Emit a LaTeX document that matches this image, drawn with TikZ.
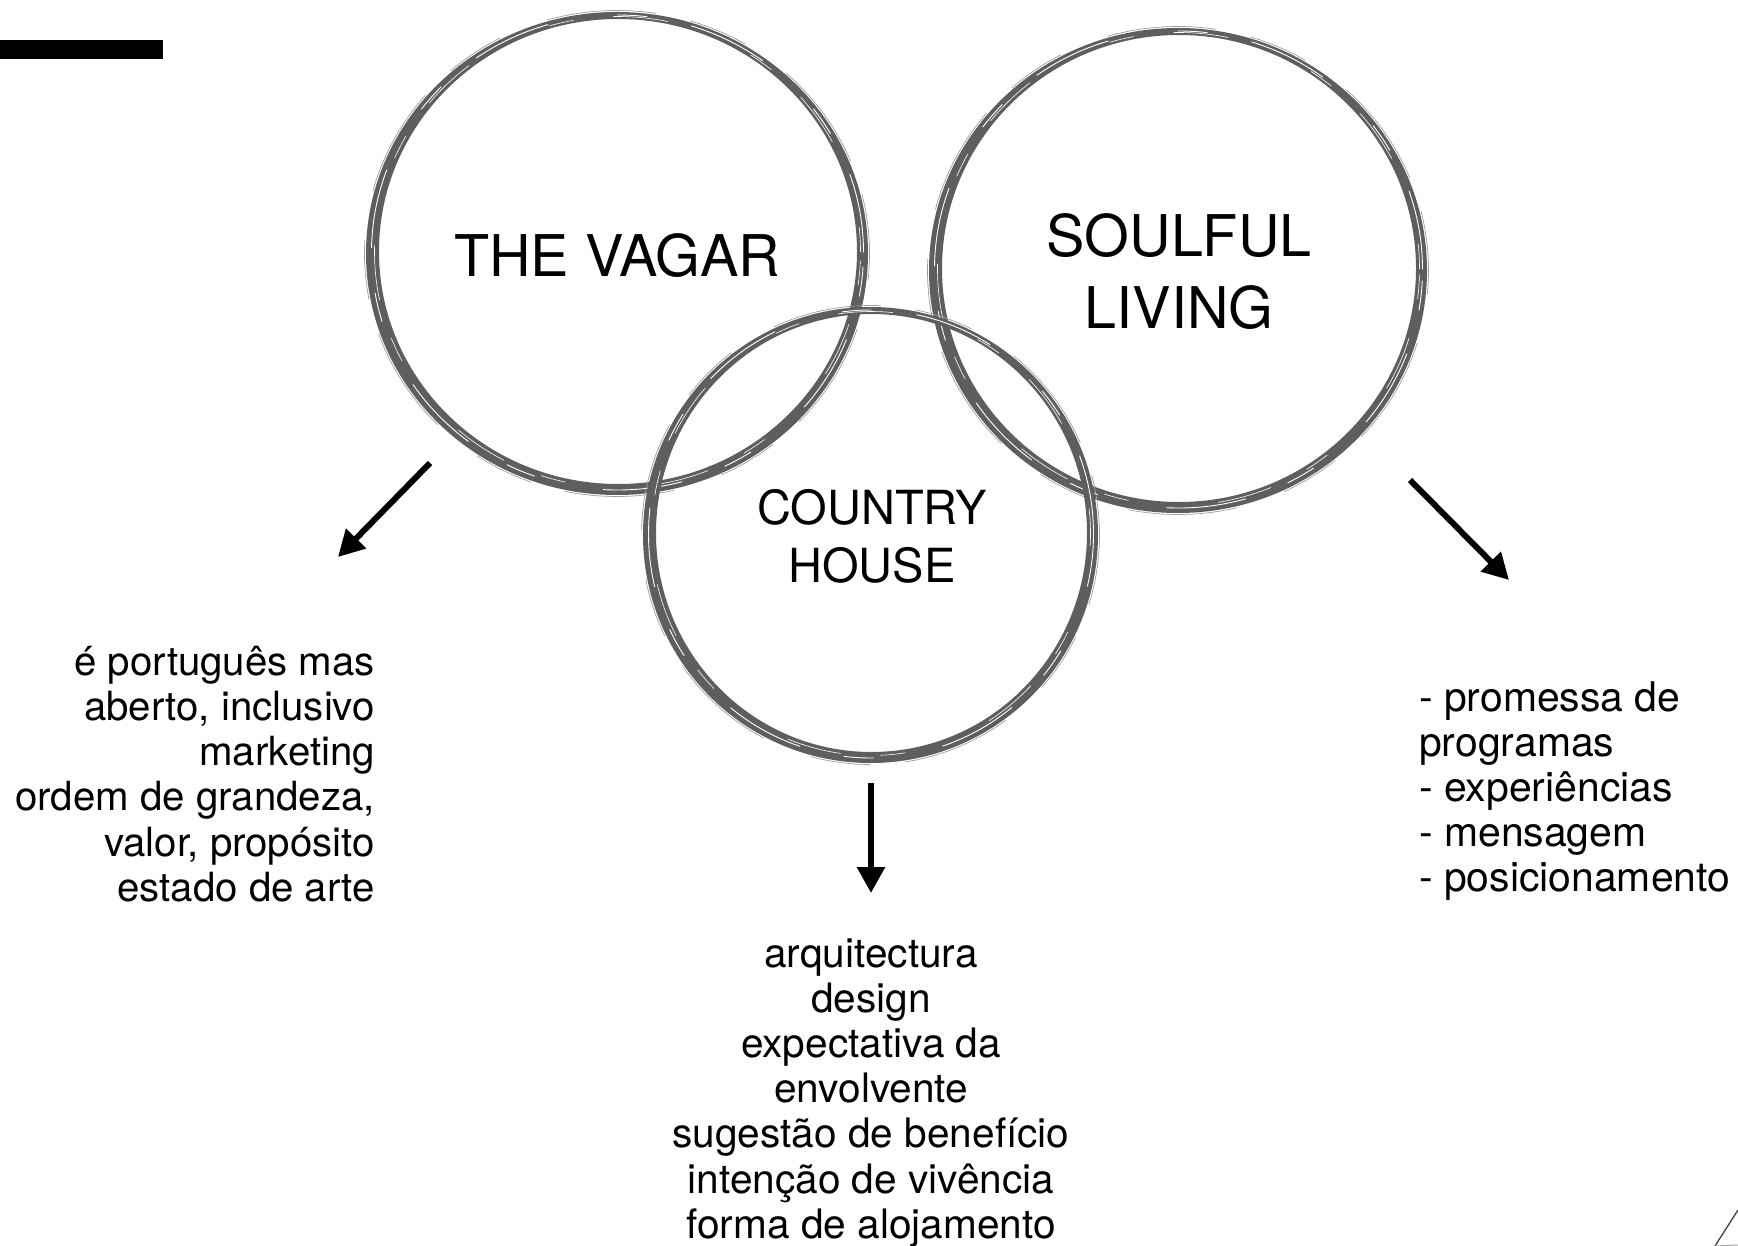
\documentclass[tikz,border=0pt]{standalone}
\usepackage{fontspec}
\setmainfont{TeX Gyre Heros}
\usetikzlibrary{arrows.meta}
\definecolor{brushc}{RGB}{94,94,94}
\newcommand\brushring[3]{% #1 centre name, #2 outer x radius, #3 outer y radius
  \fill[brushc, even odd rule] (#1) ellipse [x radius=#2pt, y radius=#3pt]
     ([shift={(1,-2)}]#1) ellipse [x radius=#2pt-12pt, y radius=#3pt-9pt];
  \draw[white, line width=0.9pt, dash pattern=on 80pt off 45pt on 30pt off 70pt]
     ([shift={(0.5,-1)}]#1) ellipse [x radius=#2pt-5pt, y radius=#3pt-4pt];
  \draw[white, line width=0.6pt, dash pattern=on 25pt off 90pt on 55pt off 40pt]
     ([shift={(0.5,-1.5)}]#1) ellipse [x radius=#2pt-8pt, y radius=#3pt-6pt];
  \draw[brushc!60, line width=0.7pt, dash pattern=on 60pt off 35pt on 110pt off 50pt]
     (#1) ellipse [x radius=#2pt+1.5pt, y radius=#3pt+1.5pt];
}
\begin{document}
\begin{tikzpicture}[x=1pt,y=-1pt,
  arr/.style={line width=6pt, -{Triangle[length=26pt,width=27pt]}},
  bigtxt/.style={font=\fontsize{57.5}{72}\selectfont, inner sep=0pt, anchor=base},
  midtxt/.style={font=\fontsize{47}{58}\selectfont, inner sep=0pt, anchor=base},
  smalltxt/.style={font=\fontsize{40.6}{45}\selectfont, inner sep=0pt},
  lefttxt/.style={font=\fontsize{40.2}{45}\selectfont, inner sep=0pt},
  righttxt/.style={font=\fontsize{40.9}{45}\selectfont, inner sep=0pt}]
\useasboundingbox (0,0) rectangle (1738,1246);
\fill[black] (0,40) rectangle (163,59);

% circles
\coordinate (cV) at (617,253.5);
\coordinate (cS) at (1178,270.5);
\coordinate (cC) at (870.5,535);
\brushring{cV}{251}{241.5}
\brushring{cS}{249}{242.5}
\brushring{cC}{227.5}{228}

% circle labels
\node[bigtxt] (vagar) at (617,277) {THE VAGAR};
\node[bigtxt] (soul1) at (1179,257) {SOULFUL};
\node[bigtxt] (soul2) at (1179,329) {LIVING};
\node[midtxt] (ch1) at (872,524) {COUNTRY};
\node[midtxt] (ch2) at (872,582) {HOUSE};

% arrows
\coordinate (a1s) at (430,463); \coordinate (a1e) at (338,557);
\coordinate (a2s) at (1410,480); \coordinate (a2e) at (1509,580);
\coordinate (a3s) at (871,783); \coordinate (a3e) at (871,893);
\draw[arr] (a1s) -- (a1e);
\draw[arr] (a2s) -- (a2e);
\draw[arr] (a3s) -- (a3e);

% left text
\foreach \t [count=\i from 0] in {é português mas, {aberto, inclusivo}, marketing, {ordem de grandeza,}, {valor, propósito}, estado de arte}
  \node[lefttxt, anchor=base east] (L\i) at (375,675+45.3*\i) {\t};

% bottom text
\foreach \t [count=\i from 0] in {arquitectura, design, expectativa da, envolvente, sugestão de benefício, intenção de vivência, forma de alojamento}
  \node[smalltxt, anchor=base] (B\i) at (871,967+45.2*\i) {\t};

% right text
\foreach \t [count=\i from 0] in {- promessa de, programas, - experiências, - mensagem, - posicionamento}
  \node[righttxt, anchor=base west] (R\i) at (1419,711+45.2*\i) {\t};

% corner mark
\coordinate (k1) at (1715,1246); \coordinate (k2) at (1738,1210); \coordinate (k3) at (1738,1245);
\draw[black!75, line width=1.3pt] (k1) -- (k2);
\draw[black!35, line width=1pt] (k1) -- (k3);
\end{tikzpicture}
\end{document}
